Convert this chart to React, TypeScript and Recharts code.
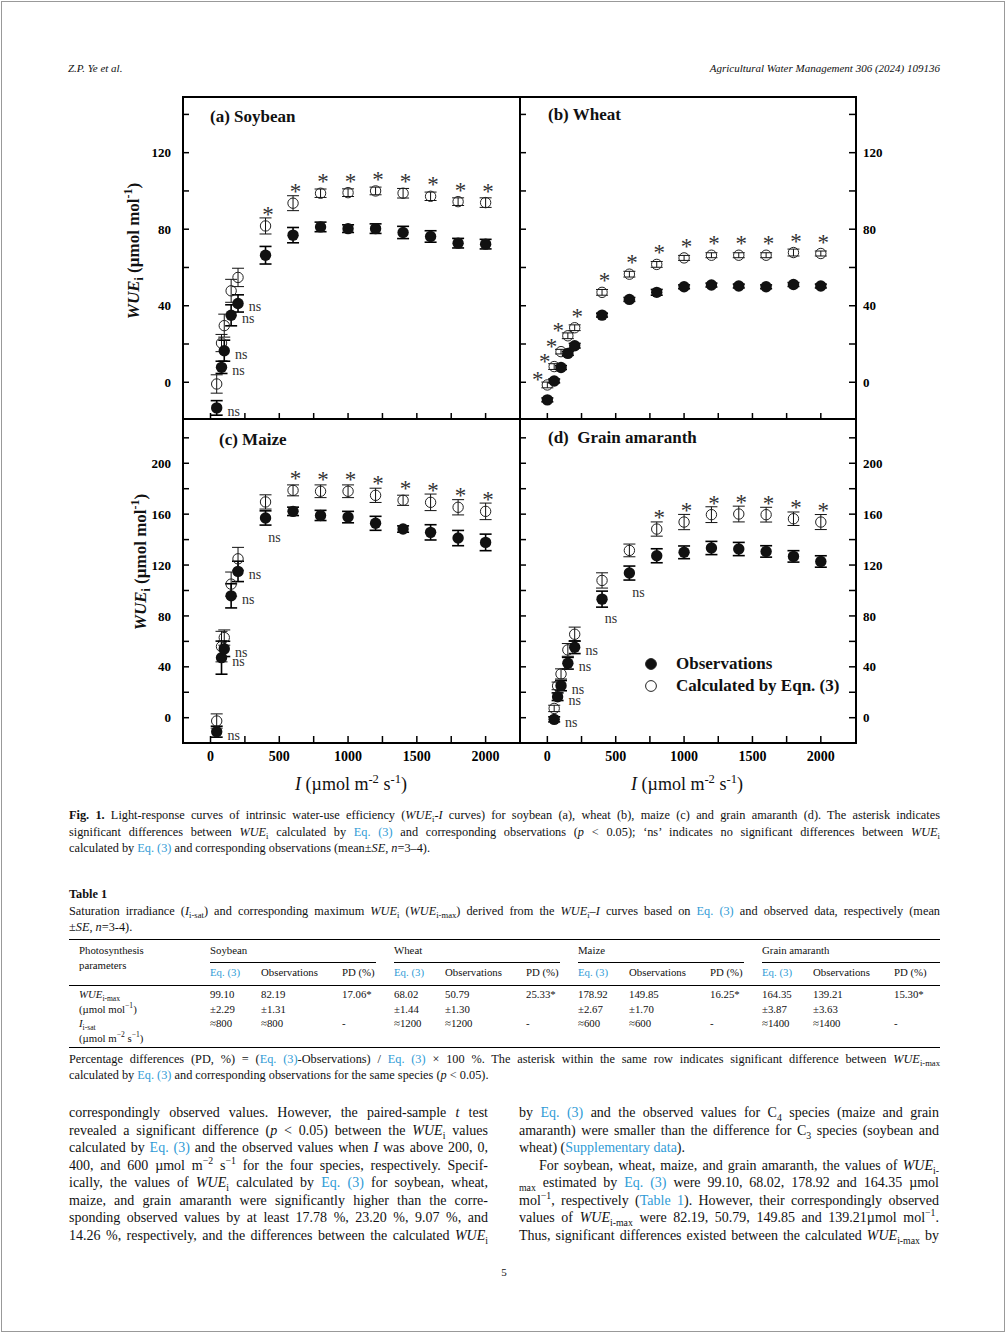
import React from "react"
import { ScatterChart, Scatter, XAxis, YAxis, ErrorBar, Legend } from "recharts"

const FONT = '"Liberation Serif", "Times New Roman", serif'
const LINK = "#2f9bd6"
const OBS_NAME = "Observations"
const CALC_NAME = "Calculated by Eqn. (3)"

// light intensity levels, µmol m-2 s-1
const I_SOY = [45, 80, 100, 150, 200, 400, 600, 800, 1000, 1200, 1400, 1600, 1800, 2000]
const I_WHEAT = [0, 50, 100, 150, 200, 400, 600, 800, 1000, 1200, 1400, 1600, 1800, 2000]
const I_MAIZE = [45, 80, 100, 150, 200, 400, 600, 800, 1000, 1200, 1400, 1600, 1800, 2000]
const I_AMAR = [50, 75, 100, 150, 200, 400, 600, 800, 1000, 1200, 1400, 1600, 1800, 2000]

// (a) soybean
const SOY_OBS = [-13.4, 7.8, 16.5, 35, 41.2, 66.4, 76.9, 81.2, 80.3, 80.3, 78.3, 76.2, 72.7, 72.2]
const SOY_OBS_SE = [3.8, 3.2, 5.5, 5.5, 4.5, 4.6, 4, 2.5, 2, 2.5, 3.2, 3, 2.5, 2.5]
const SOY_CALC = [-0.9, 20.5, 29.6, 47.8, 54.8, 81.7, 93.6, 98.8, 99.1, 100, 98.8, 97.2, 94.4, 93.9]
const SOY_CALC_SE = [4.8, 4.5, 6, 6, 4.8, 4.2, 3.9, 2.2, 2, 2, 2.5, 2.2, 2, 2.5]
const SOY_MARK = ["ns", "ns", "ns", "ns", "ns", "*", "*", "*", "*", "*", "*", "*", "*", "*"]

// (b) wheat
const WHEAT_OBS = [-9.2, 0.7, 7.7, 15.1, 19.1, 35.1, 43.3, 47, 49.9, 50.8, 50.3, 49.9, 51.1, 50.3]
const WHEAT_OBS_SE = [1, 1, 1, 1, 1.2, 1, 1, 1.5, 1, 1, 1, 1, 1, 1]
const WHEAT_CALC = [-1.4, 8.2, 16, 24.3, 28.5, 47, 56.5, 61.6, 65, 66.4, 66.4, 66.4, 67.8, 67.3]
const WHEAT_CALC_SE = [1.5, 1.5, 1.2, 1.5, 1.5, 1.5, 1.5, 1.5, 1.3, 1.3, 1.3, 1.3, 1.8, 1.3]
const WHEAT_MARK = ["*", "*", "*", "*", "*", "*", "*", "*", "*", "*", "*", "*", "*", "*"]

// (c) maize
const MAIZE_OBS = [-11, 47.2, 54.1, 95.8, 115, 157, 162.2, 159, 157.7, 152.8, 148.3, 145.7, 141.2, 137.8]
const MAIZE_OBS_SE = [4.3, 13, 6, 9.5, 8, 5.6, 3.3, 4, 4.5, 5.5, 2.5, 6, 6, 6.5]
const MAIZE_CALC = [-2.6, 55.9, 63, 105, 124.9, 169.6, 178.7, 178, 178, 174.8, 170.9, 169.3, 165.4, 162.2]
const MAIZE_CALC_SE = [5.6, 12, 6, 9.5, 9, 5.6, 4.3, 5, 5, 5.6, 4, 6.5, 6, 6.5]
const MAIZE_MARK = ["ns", "ns", "ns", "ns", "ns", "ns", "*", "*", "*", "*", "*", "*", "*", "*"]

// (d) grain amaranth
const AMAR_OBS = [-1.3, 16.5, 25.2, 42.8, 55.4, 93.2, 113.7, 127.3, 130, 133.4, 132.6, 130.7, 126.8, 122.8]
const AMAR_OBS_SE = [2, 3, 4, 4.6, 5, 6.3, 5.5, 5.5, 5, 5.2, 5.2, 4.5, 4.5, 4.5]
const AMAR_CALC = [7.3, 25, 34.4, 53.3, 65.6, 107.9, 131.5, 148.3, 153.8, 159.6, 160.1, 159.6, 156.4, 153.8]
const AMAR_CALC_SE = [2.5, 3, 4, 5, 5.6, 6, 5, 5.6, 6, 6.2, 6.2, 5.8, 5.3, 5.9]
const AMAR_MARK = ["ns", "ns", "ns", "ns", "ns", "ns", "ns", "*", "*", "*", "*", "*", "*", "*"]

const X_DOMAIN = [-200, 2250]
const X_TICKS = [0, 250, 500, 750, 1000, 1250, 1500, 1750, 2000]
const Y_DOMAIN_AB = [-19.2, 149.1]
const Y_TICKS_AB = [0, 20, 40, 60, 80, 100, 120, 140]
const Y_DOMAIN_CD = [-19.1, 234.8]
const Y_TICKS_CD = [0, 20, 40, 60, 80, 100, 120, 140, 160, 180, 200, 220]

// table 1
const GROUPS = ["Soybean", "Wheat", "Maize", "Grain amaranth"]
const WMAX = [["99.10", "82.19", "17.06*"], ["68.02", "50.79", "25.33*"], ["178.92", "149.85", "16.25*"], ["164.35", "139.21", "15.30*"]]
const WMAX_SE = [["±2.29", "±1.31"], ["±1.44", "±1.30"], ["±2.67", "±1.70"], ["±3.87", "±3.63"]]
const ISAT = [["≈800", "≈800", "-"], ["≈1200", "≈1200", "-"], ["≈600", "≈600", "-"], ["≈1400", "≈1400", "-"]]
const GROUP_X = [210, 394, 578, 762]
const COL_DX = [0, 51, 132]

function rows(I: number[], v: number[], se: number[], mark: string[]) {
  return I.map((x, i) => ({ I: x, v: v[i], se: se[i], mark: mark[i] }))
}

const ObsDot = (p: any) => {
  const { cx, cy } = p
  const d = p.payload ?? p
  const below = d.I >= 400
  return (
    <g>
      <circle cx={cx} cy={cy} r={5.7} fill="#111" />
      {d.mark === "ns" && (
        <text x={cx + (below ? 9 : 17)} y={cy + (below ? 24 : 8)} textAnchor="middle"
          fontSize={14} fill="#333" fontFamily={FONT}>ns</text>
      )}
    </g>
  )
}

const CalcDot = (p: any) => {
  const { cx, cy } = p
  const d = p.payload ?? p
  const low = d.I < 200
  return (
    <g>
      <circle cx={cx} cy={cy} r={5.2} fill="none" stroke="#222" strokeWidth={1} />
      {d.mark === "*" && (
        <text x={cx + (low ? -9.5 : 2.5)} y={cy + (low ? 2 : -4)} textAnchor="middle"
          fontSize={23} fill="#333" fontFamily={FONT}>*</text>
      )}
    </g>
  )
}

const LegendBox = (props: any) => {
  const items = [...(props.payload ?? [])].reverse()
  return (
    <div style={{ fontFamily: FONT, fontWeight: 700, fontSize: 17, color: "#111" }}>
      {items.map((it: any) => (
        <div key={it.value} style={{ display: "flex", alignItems: "center", height: 22 }}>
          <svg width={14} height={14} style={{ marginRight: 18 }}>
            <circle cx={7} cy={7} r={5.4} fill={it.value === OBS_NAME ? "#111" : "none"} stroke="#222" />
          </svg>
          <span>{it.value}</span>
        </div>
      ))}
    </div>
  )
}

const tickLine = { stroke: "#000", strokeWidth: 1.5 }
const tickText = { fill: "#000", fontSize: 13, fontWeight: 700, fontFamily: FONT }
const fmtX = (v: number) => (v % 500 === 0 ? String(v) : "")
const fmtY = (v: number) => (v % 40 === 0 ? String(v) : "")
const blank = () => ""

function Panel({ left, top, w, h, yDomain, yTicks, side, xLabels, obs, calc, legend }: any) {
  const LW = 50
  const RW = side === "right" ? 50 : 0
  const XH = 30
  return (
    <div style={{ position: "absolute", left: left - LW, top }}>
      <ScatterChart width={w + LW + RW} height={h + XH} margin={{ top: 0, right: 0, bottom: 0, left: 0 }}>
        <XAxis type="number" dataKey="I" domain={X_DOMAIN} ticks={X_TICKS} allowDataOverflow
          axisLine={false} tickLine={tickLine} tickSize={-6} tickMargin={15} height={XH}
          tick={{ ...tickText, fontSize: 14 }} tickFormatter={xLabels ? fmtX : blank} />
        <YAxis yAxisId="l" type="number" dataKey="v" domain={yDomain} ticks={yTicks} allowDataOverflow
          axisLine={false} tickLine={tickLine} tickSize={-6} tickMargin={18} width={LW}
          tick={tickText} tickFormatter={side === "left" ? fmtY : blank} />
        {side === "right" && (
          <YAxis yAxisId="r" orientation="right" type="number" dataKey="v" domain={yDomain} ticks={yTicks}
            allowDataOverflow axisLine={false} tickLine={tickLine} tickSize={-6} tickMargin={14}
            width={RW} tick={tickText} tickFormatter={fmtY} />
        )}
        <Scatter name={CALC_NAME} data={calc} yAxisId={side === "right" ? "r" : "l"} shape={CalcDot}
          isAnimationActive={false}>
          <ErrorBar dataKey="se" direction="y" width={6} stroke="#111" strokeWidth={1} />
        </Scatter>
        <Scatter name={OBS_NAME} data={obs} yAxisId="l" shape={ObsDot} isAnimationActive={false}>
          <ErrorBar dataKey="se" direction="y" width={6} stroke="#000" strokeWidth={1.6} />
        </Scatter>
        {legend && (
          <Legend layout="vertical" align="center" verticalAlign="middle" content={LegendBox}
            wrapperStyle={{ left: 174, top: 234, width: 240 }} />
        )}
      </ScatterChart>
    </div>
  )
}

// text helpers
const Sb = ({ children }: any) => <sub style={{ fontSize: "0.7em", lineHeight: 0 }}>{children}</sub>
const Sp = ({ children }: any) => <sup style={{ fontSize: "0.7em", lineHeight: 0 }}>{children}</sup>
const Lk = ({ children }: any) => <span style={{ color: LINK }}>{children}</span>
const W = ({ s = "i" }: any) => (<><i>WUE</i><Sb>{s}</Sb></>)

function Ln({ x, y, w, size = 14, lh = 17, just = false, align, bold, italic, children }: any) {
  return (
    <div style={{
      position: "absolute", left: x, top: y - lh / 2 - 0.1075 * size, width: w,
      whiteSpace: w ? "normal" : "nowrap", fontSize: size, lineHeight: lh + "px",
      textAlign: align ?? (just ? "justify" : "left"), textAlignLast: just ? "justify" : (align ?? "auto"),
      fontWeight: bold ? 700 : 400, fontStyle: italic ? "italic" : "normal", color: "#111",
    } as any}>
      {children}
    </div>
  )
}

const Rule = ({ x, y, w, t = 1 }: any) => (
  <div style={{ position: "absolute", left: x, top: y, width: w, height: t, background: "#000" }} />
)

export default function App() {
  const body = (k: number) => 1114 + k * 17.57
  const cap = 12.3
  return (
    <div style={{ position: "absolute", left: 0, top: 0, width: 1006, height: 1334, background: "#fff",
      fontFamily: FONT, overflow: "hidden" }}>
      <div style={{ position: "absolute", left: 1, top: 1, width: 1002, height: 1329, border: "1px solid #999" }} />

      <Ln x={68} y={70} size={11} italic>Z.P. Ye et al.</Ln>
      <Ln x={540} y={70} w={400} size={11} italic align="right">Agricultural Water Management 306 (2024) 109136</Ln>

      <Panel left={183} top={97} w={337} h={322} yDomain={Y_DOMAIN_AB} yTicks={Y_TICKS_AB} side="left"
        xLabels={false} obs={rows(I_SOY, SOY_OBS, SOY_OBS_SE, SOY_MARK)}
        calc={rows(I_SOY, SOY_CALC, SOY_CALC_SE, SOY_MARK)} />
      <Panel left={520} top={97} w={335} h={322} yDomain={Y_DOMAIN_AB} yTicks={Y_TICKS_AB} side="right"
        xLabels={false} obs={rows(I_WHEAT, WHEAT_OBS, WHEAT_OBS_SE, WHEAT_MARK)}
        calc={rows(I_WHEAT, WHEAT_CALC, WHEAT_CALC_SE, WHEAT_MARK)} />
      <Panel left={183} top={419} w={337} h={323} yDomain={Y_DOMAIN_CD} yTicks={Y_TICKS_CD} side="left"
        xLabels obs={rows(I_MAIZE, MAIZE_OBS, MAIZE_OBS_SE, MAIZE_MARK)}
        calc={rows(I_MAIZE, MAIZE_CALC, MAIZE_CALC_SE, MAIZE_MARK)} />
      <Panel left={520} top={419} w={335} h={323} yDomain={Y_DOMAIN_CD} yTicks={Y_TICKS_CD} side="right"
        xLabels obs={rows(I_AMAR, AMAR_OBS, AMAR_OBS_SE, AMAR_MARK)}
        calc={rows(I_AMAR, AMAR_CALC, AMAR_CALC_SE, AMAR_MARK)} legend />

      {/* panel frames */}
      <div style={{ position: "absolute", left: 182, top: 96, width: 675, height: 648, border: "2px solid #000", boxSizing: "border-box" }} />
      <div style={{ position: "absolute", left: 519, top: 96, width: 2, height: 648, background: "#000" }} />
      <div style={{ position: "absolute", left: 182, top: 418, width: 675, height: 2, background: "#000" }} />

      {/* panel titles */}
      <Ln x={210} y={119} size={17} lh={20} bold>(a) Soybean</Ln>
      <Ln x={548} y={117} size={17} lh={20} bold>(b) Wheat</Ln>
      <Ln x={219} y={442} size={17} lh={20} bold>(c) Maize</Ln>
      <Ln x={548} y={440} size={17} lh={20} bold>(d)&nbsp; Grain amaranth</Ln>

      {/* axis titles */}
      {[[134, 251], [141, 562]].map(([cx, cy]) => (
        <div key={cy} style={{ position: "absolute", left: cx, top: cy, transform: "translate(-50%,-50%) rotate(-90deg)",
          whiteSpace: "nowrap", fontSize: 17, fontWeight: 700, lineHeight: "20px", color: "#111" }}>
          <i>WUE</i><Sb>i</Sb> (µmol mol<Sp>-1</Sp>)
        </div>
      ))}
      {[351, 687].map((cx) => (
        <div key={cx} style={{ position: "absolute", left: cx - 100, top: 773, width: 200, textAlign: "center",
          whiteSpace: "nowrap", fontSize: 18, lineHeight: "22px", color: "#111" }}>
          <i>I</i> (µmol m<Sp>-2</Sp> s<Sp>-1</Sp>)
        </div>
      ))}

      {/* figure caption */}
      <Ln x={69} y={817} w={871} size={cap} lh={15} just>
        <b>Fig. 1.</b> Light-response curves of intrinsic water-use efficiency (<W /><i>-I</i> curves) for soybean (a), wheat (b), maize (c) and grain amaranth (d). The asterisk indicates
      </Ln>
      <Ln x={69} y={833.5} w={871} size={cap} lh={15} just>
        significant differences between <W /> calculated by <Lk>Eq. (3)</Lk> and corresponding observations (<i>p</i> &lt; 0.05); ‘ns’ indicates no significant differences between <W />
      </Ln>
      <Ln x={69} y={850} w={871} size={cap} lh={15}>
        calculated by <Lk>Eq. (3)</Lk> and corresponding observations (mean±<i>SE</i>, <i>n</i>=3–4).
      </Ln>

      {/* table */}
      <Ln x={69} y={896} size={cap} lh={15} bold>Table 1</Ln>
      <Ln x={69} y={913} w={871} size={cap} lh={15} just>
        Saturation irradiance (<i>I</i><Sb>i-sat</Sb>) and corresponding maximum <W /> (<W s="i-max" />) derived from the <W />–<i>I</i> curves based on <Lk>Eq. (3)</Lk> and observed data, respectively (mean
      </Ln>
      <Ln x={69} y={929} size={cap} lh={15}>±<i>SE</i>, <i>n</i>=3-4).</Ln>
      <Rule x={69} y={939} w={871} t={1.2} />
      <Ln x={79} y={951} size={10.8} lh={14}>Photosynthesis</Ln>
      <Ln x={79} y={966} size={10.8} lh={14}>parameters</Ln>
      {GROUPS.map((g, gi) => (
        <React.Fragment key={g}>
          <Ln x={GROUP_X[gi]} y={951} size={10.8} lh={14}>{g}</Ln>
          <Rule x={GROUP_X[gi]} y={962} w={gi === 3 ? 178 : 166} t={0.8} />
          <Ln x={GROUP_X[gi] + COL_DX[0]} y={973} size={10.8} lh={14}><Lk>Eq. (3)</Lk></Ln>
          <Ln x={GROUP_X[gi] + COL_DX[1]} y={973} size={10.8} lh={14}>Observations</Ln>
          <Ln x={GROUP_X[gi] + COL_DX[2]} y={973} size={10.8} lh={14}>PD (%)</Ln>
          {WMAX[gi].map((v, ci) => (
            <Ln key={"w" + ci} x={GROUP_X[gi] + COL_DX[ci]} y={995} size={10.8} lh={14}>{v}</Ln>
          ))}
          {WMAX_SE[gi].map((v, ci) => (
            <Ln key={"s" + ci} x={GROUP_X[gi] + COL_DX[ci]} y={1010} size={10.8} lh={14}>{v}</Ln>
          ))}
          {ISAT[gi].map((v, ci) => (
            <Ln key={"i" + ci} x={GROUP_X[gi] + COL_DX[ci]} y={1024} size={10.8} lh={14}>{v}</Ln>
          ))}
        </React.Fragment>
      ))}
      <Rule x={69} y={985} w={871} t={0.8} />
      <Ln x={79} y={995} size={10.8} lh={14}><W s="i-max" /></Ln>
      <Ln x={79} y={1010} size={10.8} lh={14}>(µmol mol<Sp>−1</Sp>)</Ln>
      <Ln x={79} y={1024} size={10.8} lh={14}><i>I</i><Sb>i-sat</Sb></Ln>
      <Ln x={79} y={1039} size={10.8} lh={14}>(µmol m<Sp>−2</Sp> s<Sp>−1</Sp>)</Ln>
      <Rule x={69} y={1047} w={871} t={0.8} />
      <Ln x={69} y={1061} w={871} size={cap} lh={15} just>
        Percentage differences (PD, %) = (<Lk>Eq. (3)</Lk>-Observations) / <Lk>Eq. (3)</Lk> × 100 %. The asterisk within the same row indicates significant difference between <W s="i-max" />
      </Ln>
      <Ln x={69} y={1077} size={cap} lh={15}>
        calculated by <Lk>Eq. (3)</Lk> and corresponding observations for the same species (<i>p</i> &lt; 0.05).
      </Ln>

      {/* body, left column */}
      <Ln x={69} y={body(0)} w={419} just>correspondingly observed values. However, the paired-sample <i>t</i> test</Ln>
      <Ln x={69} y={body(1)} w={419} just>revealed a significant difference (<i>p</i> &lt; 0.05) between the <W /> values</Ln>
      <Ln x={69} y={body(2)} w={419} just>calculated by <Lk>Eq. (3)</Lk> and the observed values when <i>I</i> was above 200, 0,</Ln>
      <Ln x={69} y={body(3)} w={419} just>400, and 600 µmol m<Sp>−2</Sp> s<Sp>−1</Sp> for the four species, respectively. Specif-</Ln>
      <Ln x={69} y={body(4)} w={419} just>ically, the values of <W /> calculated by <Lk>Eq. (3)</Lk> for soybean, wheat,</Ln>
      <Ln x={69} y={body(5)} w={419} just>maize, and grain amaranth were significantly higher than the corre-</Ln>
      <Ln x={69} y={body(6)} w={419} just>sponding observed values by at least 17.78 %, 23.20 %, 9.07 %, and</Ln>
      <Ln x={69} y={body(7)} w={419} just>14.26 %, respectively, and the differences between the calculated <W /></Ln>

      {/* body, right column */}
      <Ln x={519} y={body(0)} w={420} just>by <Lk>Eq. (3)</Lk> and the observed values for C<Sb>4</Sb> species (maize and grain</Ln>
      <Ln x={519} y={body(1)} w={420} just>amaranth) were smaller than the difference for C<Sb>3</Sb> species (soybean and</Ln>
      <Ln x={519} y={body(2)} w={420}>wheat) (<Lk>Supplementary data</Lk>).</Ln>
      <Ln x={539} y={body(3)} w={400} just>For soybean, wheat, maize, and grain amaranth, the values of <i>WUE</i><Sb>i-</Sb></Ln>
      <Ln x={519} y={body(4)} w={420} just><Sb>max</Sb> estimated by <Lk>Eq. (3)</Lk> were 99.10, 68.02, 178.92 and 164.35 µmol</Ln>
      <Ln x={519} y={body(5)} w={420} just>mol<Sp>−1</Sp>, respectively (<Lk>Table 1</Lk>). However, their correspondingly observed</Ln>
      <Ln x={519} y={body(6)} w={420} just>values of <W s="i-max" /> were 82.19, 50.79, 149.85 and 139.21µmol mol<Sp>−1</Sp>.</Ln>
      <Ln x={519} y={body(7)} w={420} just>Thus, significant differences existed between the calculated <W s="i-max" /> by</Ln>

      <Ln x={454} y={1274} w={100} size={11} align="center">5</Ln>
    </div>
  )
}
